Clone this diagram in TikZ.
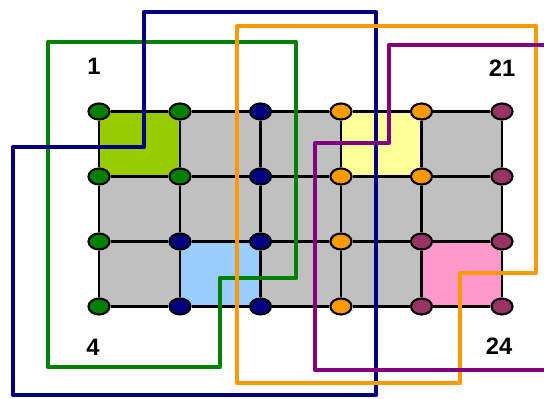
\documentclass[tikz,border=0pt]{standalone}
\usepackage{fontspec}
\setmainfont{Liberation Sans}
\usepackage{tikz}
\usetikzlibrary{shapes.geometric,backgrounds}

\definecolor{verde}{RGB}{0,128,0}
\definecolor{marino}{RGB}{0,0,128}
\definecolor{naranja}{RGB}{255,153,0}
\definecolor{vino}{RGB}{153,51,102}
\definecolor{morado}{RGB}{128,0,128}
\definecolor{gris}{RGB}{192,192,192}
\definecolor{lima}{RGB}{153,204,0}
\definecolor{crema}{RGB}{255,255,153}
\definecolor{celeste}{RGB}{153,204,255}
\definecolor{rosa}{RGB}{255,153,204}

\begin{document}
\begin{tikzpicture}[
    dot/.style={
        ellipse,
        draw=black,
        line width=1.2pt,
        minimum width=0.42cm,
        minimum height=0.32cm,
        inner sep=0pt
    },
    rejilla/.style={
        line width=1.2pt,
        black
    },
    lazo/.style={
        line width=2.7pt,
        line join=round
    },
    etiqueta/.style={
        font=\fontsize{13.5}{16}\selectfont\bfseries
    }
]

\useasboundingbox (0,0) rectangle (10.88,7.98);

% COLUMNA 1
\node[dot, fill=verde] (n1) at (1.98,5.75) {};
\node[dot, fill=verde] (n2) at (1.98,4.45) {};
\node[dot, fill=verde] (n3) at (1.98,3.15) {};
\node[dot, fill=verde] (n4) at (1.98,1.85) {};

% COLUMNA 2
\node[dot, fill=verde] (n5) at (3.60,5.75) {};
\node[dot, fill=verde] (n6) at (3.60,4.45) {};
\node[dot, fill=marino] (n7) at (3.60,3.15) {};
\node[dot, fill=marino] (n8) at (3.60,1.85) {};

% COLUMNA 3
\node[dot, fill=marino] (n9) at (5.21,5.75) {};
\node[dot, fill=marino] (n10) at (5.21,4.45) {};
\node[dot, fill=marino] (n11) at (5.21,3.15) {};
\node[dot, fill=marino] (n12) at (5.21,1.85) {};

% COLUMNA 4
\node[dot, fill=naranja] (n13) at (6.82,5.75) {};
\node[dot, fill=naranja] (n14) at (6.82,4.45) {};
\node[dot, fill=naranja] (n15) at (6.82,3.15) {};
\node[dot, fill=naranja] (n16) at (6.82,1.85) {};

% COLUMNA 5
\node[dot, fill=naranja] (n17) at (8.43,5.75) {};
\node[dot, fill=naranja] (n18) at (8.43,4.45) {};
\node[dot, fill=vino] (n19) at (8.43,3.15) {};
\node[dot, fill=vino] (n20) at (8.43,1.85) {};

% COLUMNA 6
\node[dot, fill=vino] (n21) at (10.04,5.75) {};
\node[dot, fill=vino] (n22) at (10.04,4.45) {};
\node[dot, fill=vino] (n23) at (10.04,3.15) {};
\node[dot, fill=vino] (n24) at (10.04,1.85) {};

% CELDAS
\begin{scope}[on background layer]
\fill[gris] (n1.center) rectangle (n24.center);
\fill[lima] (n1.center) rectangle (n6.center);
\fill[crema] (n13.center) rectangle (n18.center);
\fill[celeste] (n7.center) rectangle (n12.center);
\fill[rosa] (n19.center) rectangle (n24.center);
\end{scope}

% LINEAS HORIZONTALES
\draw[rejilla] (n1) -- (n5) -- (n9) -- (n13) -- (n17) -- (n21);
\draw[rejilla] (n2) -- (n6) -- (n10) -- (n14) -- (n18) -- (n22);
\draw[rejilla] (n3) -- (n7) -- (n11) -- (n15) -- (n19) -- (n23);
\draw[rejilla] (n4) -- (n8) -- (n12) -- (n16) -- (n20) -- (n24);

% LINEAS VERTICALES
\draw[rejilla] (n1) -- (n2) -- (n3) -- (n4);
\draw[rejilla] (n5) -- (n6) -- (n7) -- (n8);
\draw[rejilla] (n9) -- (n10) -- (n11) -- (n12);
\draw[rejilla] (n13) -- (n14) -- (n15) -- (n16);
\draw[rejilla] (n17) -- (n18) -- (n19) -- (n20);
\draw[rejilla] (n21) -- (n22) -- (n23) -- (n24);

% LAZOS
\draw[lazo, verde] (0.96,7.14) -- (5.92,7.14) -- (5.92,2.42) -- (4.40,2.42)
    -- (4.40,0.64) -- (0.96,0.64) -- cycle;
\draw[lazo, marino] (2.88,7.74) -- (7.52,7.74) -- (7.52,0.08) -- (0.26,0.08)
    -- (0.26,5.04) -- (2.88,5.04) -- cycle;
\draw[lazo, naranja] (4.74,7.46) -- (10.72,7.46) -- (10.72,2.52) -- (9.20,2.52)
    -- (9.20,0.32) -- (4.74,0.32) -- cycle;
\draw[lazo, morado] (11.2,7.08) -- (7.78,7.08) -- (7.78,5.12) -- (6.30,5.12)
    -- (6.30,0.58) -- (11.2,0.58);

% ESQUINAS
\node[etiqueta] (e1) at (1.88,6.66) {1};
\node[etiqueta] (e4) at (1.86,1.04) {4};
\node[etiqueta] (e21) at (10.04,6.62) {21};
\node[etiqueta] (e24) at (9.98,1.05) {24};

\end{tikzpicture}
\end{document}
